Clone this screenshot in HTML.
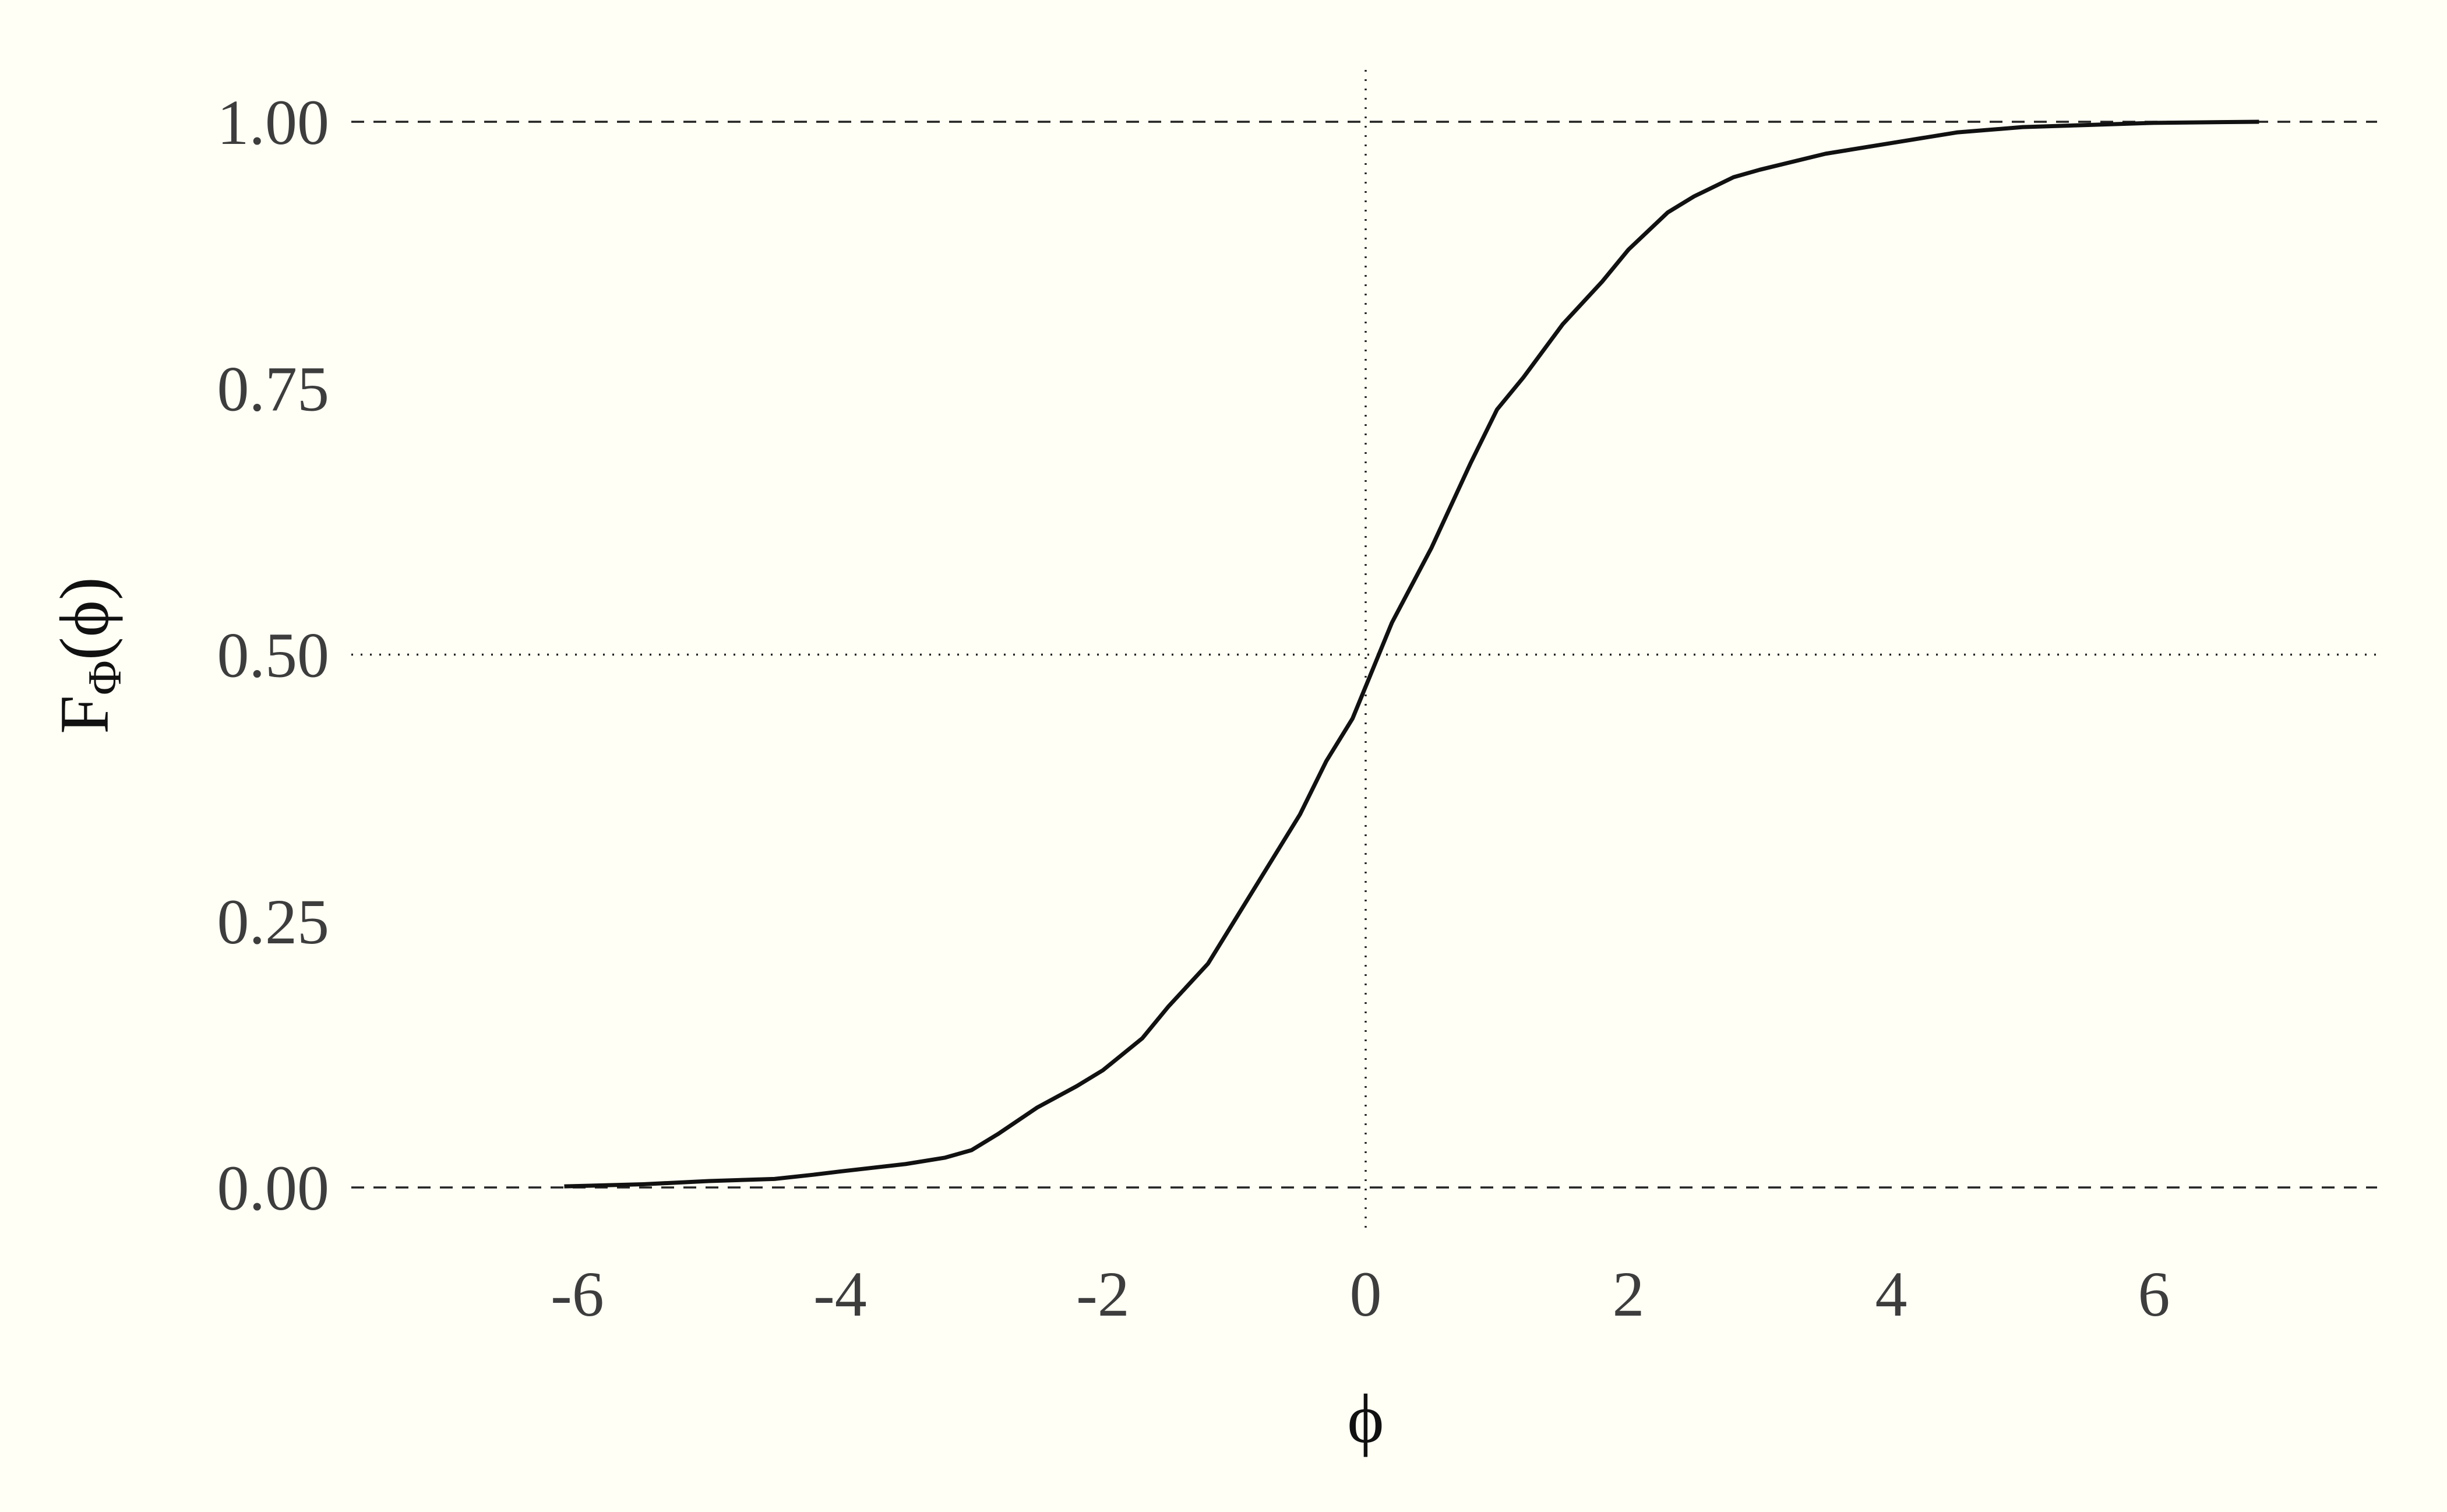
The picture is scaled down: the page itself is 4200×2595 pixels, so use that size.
<!DOCTYPE html>
<html><head><meta charset="utf-8">
<style>
html,body{margin:0;padding:0;background:#fffff5;}
svg{display:block;}
text{font-family:"Liberation Serif","DejaVu Serif",serif;}
</style></head>
<body>
<svg id="chart" width="4200" height="2595" viewBox="0 0 4200 2595" xmlns="http://www.w3.org/2000/svg">
<rect width="4200" height="2595" fill="#fffff5"/>
<g id="grid"></g>
<g id="series"></g>
<g id="axes"></g>
<text x="2344" y="2475" font-size="120" text-anchor="middle" fill="#111">ϕ</text>
<text transform="translate(185,1125) rotate(-90)" font-size="120" text-anchor="middle" fill="#111">F<tspan font-size="82" dy="22">Φ</tspan><tspan dy="-22">(ϕ)</tspan></text>
</svg>
<script>
const xVals=[-6.1,-5.5,-5,-4.5,-4.2,-4,-3.5,-3.2,-3,-2.8,-2.5,-2.2,-2,-1.7,-1.5,-1.2,-1,-0.8,-0.5,-0.3,-0.1,0,0.2,0.5,0.8,1,1.2,1.5,1.8,2,2.3,2.5,2.8,3,3.5,4,4.5,5,5.5,6,6.8];
const fVals=[0.001,0.003,0.006,0.008,0.012,0.015,0.022,0.028,0.035,0.05,0.075,0.095,0.11,0.14,0.17,0.21,0.25,0.29,0.35,0.40,0.44,0.47,0.53,0.60,0.68,0.73,0.76,0.81,0.85,0.88,0.915,0.93,0.948,0.955,0.97,0.98,0.99,0.995,0.997,0.999,1.0];
const xTicks=[-6,-4,-2,0,2,4,6];
const yTicks=[0,0.25,0.5,0.75,1];
const yTickLabels=["0.00","0.25","0.50","0.75","1.00"];
const NS="http://www.w3.org/2000/svg";
const sx=v=>2344+v*225.5;
const sy=v=>2038-v*1829;
function mk(tag,attrs,parent){const e=document.createElementNS(NS,tag);for(const k in attrs)e.setAttribute(k,attrs[k]);parent.appendChild(e);return e;}
const grid=document.getElementById('grid'),axes=document.getElementById('axes'),series=document.getElementById('series');
let l=mk('line',{x1:603,x2:4080,y1:sy(1),y2:sy(1),stroke:'#222','stroke-width':3.5,'stroke-dasharray':'22 16'},grid);


l=mk('line',{x1:603,x2:4080,y1:sy(0),y2:sy(0),stroke:'#222','stroke-width':3.5,'stroke-dasharray':'22 16'},grid);


l=mk('line',{x1:603,x2:4080,y1:sy(0.5),y2:sy(0.5),stroke:'#222','stroke-width':3.5,'stroke-dasharray':'3 13'},grid);


l=mk('line',{x1:sx(0),x2:sx(0),y1:120,y2:2116,stroke:'#222','stroke-width':3.5,'stroke-dasharray':'3 13'},grid);


let d='M'+sx(xVals[0])+','+sy(fVals[0]);
for(let i=1;i<xVals.length;i++){d+=' L'+sx(xVals[i])+','+sy(fVals[i]);}
const p=mk('path',{d:d,fill:'none',stroke:'#111','stroke-width':7,'stroke-linejoin':'round'},series);


xTicks.forEach(t=>{const e=mk('text',{x:sx(t),y:2258,'font-size':110,'text-anchor':'middle',fill:'#3d3d3d'},axes);e.textContent=String(t);

});
yTicks.forEach((t,i)=>{const e=mk('text',{x:565,y:sy(t)+38,'font-size':110,'text-anchor':'end',fill:'#3d3d3d'},axes);e.textContent=yTickLabels[i];

});
</script>
</body></html>
